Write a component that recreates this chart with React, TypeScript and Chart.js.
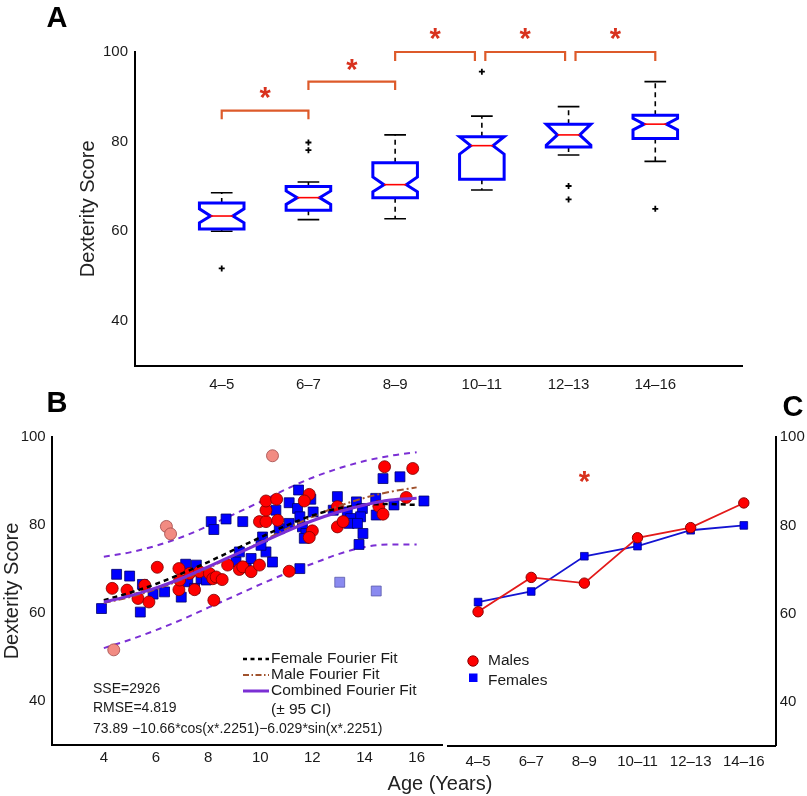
import React, { useEffect, useRef } from 'react';
import { Chart, registerables } from 'chart.js';

Chart.register(...registerables);

const FONT = '"Liberation Sans", Arial, Helvetica, sans-serif';
const W = 807;
const H = 796;

// ---------------- Panel A: notched box plots per age group
const ageGroups = ['4–5', '6–7', '8–9', '10–11', '12–13', '14–16'];
const boxWhiskerLow = [60.0, 62.6, 62.8, 69.2, 77.0, 75.6];
const boxQ1 = [60.5, 64.7, 67.5, 71.6, 78.8, 80.7];
const boxMedian = [63.4, 67.5, 70.4, 79.1, 81.5, 83.9];
const boxQ3 = [66.3, 70.0, 75.3, 81.1, 83.9, 85.9];
const boxWhiskerHigh = [68.6, 71.0, 81.5, 85.7, 87.8, 93.4];
const notchLow = [61.9, 66.0, 68.8, 77.2, 79.2, 82.6];
const notchHigh = [65.0, 69.0, 72.1, 81.1, 83.9, 85.2];
const outlierGroup = [1, 2, 2, 4, 5, 5, 6];
const outlierValue = [51.7, 79.8, 78.1, 95.6, 70.1, 67.1, 65.0];
const sigFrom = [1, 2, 3, 4.04, 5.08];
const sigTo = [2, 3, 3.92, 4.96, 6];
const sigTop = [86.9, 93.4, 100, 100, 100];
const sigLeg = [85.0, 91.5, 98.0, 98.0, 98.0];
const sigStar = [90.8, 97.1, 104.1, 104.1, 104.1];
const scoreTicks = [40, 60, 80, 100];

// ---------------- Panel B: scatter + Fourier fits
const ageTicks = [4, 6, 8, 10, 12, 14, 16];
const fitAge = [4, 5, 6, 7, 8, 9, 10, 11, 12, 13, 14, 15, 16];
const combinedFit = [62.5, 63.9, 65.7, 67.9, 70.5, 73.2, 75.9, 78.6, 81.0, 83.0, 84.6, 85.7, 86.1];
const femaleFit = [62.9, 64.6, 66.6, 69.0, 71.6, 74.4, 77.2, 79.9, 82.2, 83.8, 84.6, 84.8, 84.6];
const maleFit = [62.3, 63.6, 65.4, 67.6, 70.2, 73.1, 76.1, 79.1, 81.9, 84.3, 86.2, 87.6, 88.6];
const ciUpper = [72.8, 73.8, 75.3, 77.3, 79.8, 82.5, 85.3, 88.2, 90.8, 92.9, 94.6, 95.8, 96.6];
const ciLower = [52.0, 53.9, 56.1, 58.5, 61.2, 63.8, 66.5, 69.0, 71.2, 73.4, 75.0, 75.6, 75.6];

const malePoints: [number, number][] = [
  [4.32, 65.6], [4.89, 65.2], [5.31, 63.3], [5.73, 62.5], [5.57, 66.3], [6.05, 70.4],
  [6.88, 70.1], [6.88, 65.3], [7.48, 65.3], [6.91, 67.5], [7.29, 69.0], [7.67, 69.4],
  [8.05, 69.0], [8.18, 67.8], [8.31, 68.2], [8.54, 67.6], [8.22, 62.9], [8.75, 70.9],
  [9.2, 69.9], [9.33, 70.5], [9.65, 69.4], [9.97, 70.9], [9.97, 80.8], [10.22, 80.8],
  [10.22, 83.4], [10.22, 85.5], [10.67, 81.1], [10.63, 85.9], [11.11, 69.5], [11.88, 87.0],
  [11.69, 85.5], [12.0, 78.7], [11.88, 77.2], [12.96, 79.6], [13.18, 80.8], [12.96, 84.2],
  [14.55, 84.3], [14.71, 82.5], [14.77, 93.3], [15.6, 86.3], [15.85, 92.9],
];
const femalePoints: [number, number][] = [
  [3.91, 61.0], [4.49, 68.8], [4.99, 68.4], [5.48, 66.5], [5.40, 60.2], [5.89, 64.3],
  [6.33, 64.8], [6.97, 63.6], [7.14, 71.1], [7.55, 70.9], [7.22, 67.1], [7.48, 65.6],
  [7.73, 67.8], [7.93, 67.5], [8.12, 80.8], [8.22, 79.0], [8.69, 81.4], [9.33, 80.8],
  [9.20, 73.9], [9.07, 71.6], [9.46, 70.5], [9.65, 72.4], [10.09, 77.3], [10.22, 73.9],
  [10.47, 71.6], [10.60, 83.4], [10.03, 75.4], [11.47, 88.0], [11.11, 85.1], [11.43, 83.8],
  [11.94, 85.9], [12.03, 83.0], [11.52, 81.9], [10.73, 79.2], [11.11, 80.4], [11.62, 79.6],
  [11.75, 78.1], [11.69, 77.0], [12.96, 86.5], [12.80, 83.4], [13.34, 83.0], [13.69, 85.3],
  [13.92, 83.8], [13.85, 81.9], [13.47, 81.5], [13.41, 80.4], [13.73, 80.4], [13.94, 78.1],
  [13.79, 75.6], [14.43, 86.1], [14.45, 82.3], [14.71, 90.6], [15.36, 91.0], [15.13, 84.6],
  [16.28, 85.5], [11.52, 70.1],
];
const maleOutliers: [number, number][] = [[4.38, 51.6], [6.4, 79.7], [6.56, 78.0], [10.47, 95.8]];
const femaleOutliers: [number, number][] = [[13.05, 67.0], [14.45, 65.0]];
const fitStats = ['SSE=2926', 'RMSE=4.819', '73.89 −10.66*cos(x*.2251)−6.029*sin(x*.2251)'];

// ---------------- Panel C: group means by sex
const maleMeans = [60.4, 68.2, 66.9, 77.2, 79.5, 85.1];
const femaleMeans = [62.6, 65.0, 73.0, 75.3, 78.9, 80.0];
const starCGroup = 3;
const starCValue = 91.0;

const PURPLE = '#7b2fd4';
const BRACKET = '#dd5a2a';
const STAR = '#d8321e';
const tickFont = { family: FONT, size: 15 };

function drawStar(ctx: CanvasRenderingContext2D, x: number, y: number) {
  ctx.save();
  ctx.fillStyle = STAR;
  ctx.font = `bold 29px ${FONT}`;
  ctx.textAlign = 'center';
  ctx.textBaseline = 'alphabetic';
  const m = ctx.measureText('*');
  ctx.fillText('*', x, y + (m.actualBoundingBoxAscent - m.actualBoundingBoxDescent) / 2);
  ctx.restore();
}

function panelLetter(ctx: CanvasRenderingContext2D, t: string, x: number, y: number) {
  ctx.save();
  ctx.fillStyle = '#000';
  ctx.font = `bold 29px ${FONT}`;
  ctx.textAlign = 'center';
  ctx.textBaseline = 'middle';
  ctx.fillText(t, x, y);
  ctx.restore();
}

function yScale(position: string, padding: number, width: number, withTitle: boolean) {
  return {
    type: 'linear',
    position,
    min: 30,
    max: 100,
    afterBuildTicks: (s: any) => {
      s.ticks = scoreTicks.map((v) => ({ value: v }));
    },
    afterFit: (s: any) => {
      s.width = width;
    },
    grid: { display: false, drawTicks: false },
    border: { display: true, color: '#000', width: 2 },
    ticks: { font: tickFont, color: '#1a1a1a', padding },
    title: withTitle
      ? { display: true, text: 'Dexterity Score', font: { family: FONT, size: 20 }, color: '#222', padding: 0 }
      : { display: false },
  };
}

function xScale(min: number, max: number, ticks: number[], labels: (v: number) => string, padding: number, height: number) {
  return {
    type: 'linear',
    position: 'bottom',
    min,
    max,
    afterBuildTicks: (s: any) => {
      s.ticks = ticks.map((v) => ({ value: v }));
    },
    afterFit: (s: any) => {
      s.height = height;
    },
    grid: { display: false, drawTicks: false },
    border: { display: true, color: '#000', width: 2 },
    ticks: { font: tickFont, color: '#1a1a1a', padding, maxRotation: 0, callback: (v: any) => labels(Number(v)) },
  };
}

const panelAPlugin = {
  id: 'panelA',
  afterDatasetsDraw(chart: any) {
    const ctx: CanvasRenderingContext2D = chart.ctx;
    const xs = chart.scales.x;
    const ys = chart.scales.y;
    const px = (v: number) => xs.getPixelForValue(v);
    const py = (v: number) => ys.getPixelForValue(v);
    const unit = px(1) - px(0);
    const hw = unit * 0.257;
    const capHw = unit * 0.125;
    ctx.save();
    for (let i = 0; i < ageGroups.length; i++) {
      const cx = px(i + 1);
      // whiskers
      ctx.strokeStyle = '#000';
      ctx.lineWidth = 1.6;
      ctx.setLineDash([5, 4]);
      ctx.beginPath();
      ctx.moveTo(cx, py(boxQ3[i]));
      ctx.lineTo(cx, py(boxWhiskerHigh[i]));
      ctx.moveTo(cx, py(boxQ1[i]));
      ctx.lineTo(cx, py(boxWhiskerLow[i]));
      ctx.stroke();
      ctx.setLineDash([]);
      ctx.beginPath();
      ctx.moveTo(cx - capHw, py(boxWhiskerHigh[i]));
      ctx.lineTo(cx + capHw, py(boxWhiskerHigh[i]));
      ctx.moveTo(cx - capHw, py(boxWhiskerLow[i]));
      ctx.lineTo(cx + capHw, py(boxWhiskerLow[i]));
      ctx.stroke();
      // notched box
      ctx.fillStyle = '#fff';
      ctx.strokeStyle = '#0000ff';
      ctx.lineWidth = 3;
      ctx.lineJoin = 'miter';
      ctx.beginPath();
      ctx.moveTo(cx - hw, py(boxQ3[i]));
      ctx.lineTo(cx + hw, py(boxQ3[i]));
      ctx.lineTo(cx + hw, py(notchHigh[i]));
      ctx.lineTo(cx + hw / 2, py(boxMedian[i]));
      ctx.lineTo(cx + hw, py(notchLow[i]));
      ctx.lineTo(cx + hw, py(boxQ1[i]));
      ctx.lineTo(cx - hw, py(boxQ1[i]));
      ctx.lineTo(cx - hw, py(notchLow[i]));
      ctx.lineTo(cx - hw / 2, py(boxMedian[i]));
      ctx.lineTo(cx - hw, py(notchHigh[i]));
      ctx.closePath();
      ctx.fill();
      ctx.stroke();
      // median
      ctx.strokeStyle = '#ff0000';
      ctx.lineWidth = 1.6;
      ctx.beginPath();
      ctx.moveTo(cx - hw / 2, py(boxMedian[i]));
      ctx.lineTo(cx + hw / 2, py(boxMedian[i]));
      ctx.stroke();
    }
    // significance brackets
    ctx.strokeStyle = BRACKET;
    ctx.lineWidth = 2.2;
    for (let j = 0; j < sigFrom.length; j++) {
      const x1 = px(sigFrom[j]);
      const x2 = px(sigTo[j]);
      ctx.beginPath();
      ctx.moveTo(x1, py(sigLeg[j]));
      ctx.lineTo(x1, py(sigTop[j]));
      ctx.lineTo(x2, py(sigTop[j]));
      ctx.lineTo(x2, py(sigLeg[j]));
      ctx.stroke();
      drawStar(ctx, (x1 + x2) / 2, py(sigStar[j]));
    }
    ctx.restore();
    panelLetter(ctx, 'A', 57, 19);
  },
};

const legendRowsB = [
  { text: 'Female Fourier Fit', color: '#000', width: 2.5, dash: [4, 3.5], y: 659 },
  { text: 'Male Fourier Fit', color: '#a0522d', width: 2, dash: [6, 2.5, 1.5, 2.5], y: 675 },
  { text: 'Combined Fourier Fit', color: PURPLE, width: 3, dash: [] as number[], y: 691 },
];

const panelBPlugin = {
  id: 'panelB',
  afterDraw(chart: any) {
    const ctx: CanvasRenderingContext2D = chart.ctx;
    ctx.save();
    ctx.textBaseline = 'middle';
    ctx.textAlign = 'left';
    for (const r of legendRowsB) {
      ctx.strokeStyle = r.color;
      ctx.lineWidth = r.width;
      ctx.setLineDash(r.dash);
      ctx.beginPath();
      ctx.moveTo(243, r.y);
      ctx.lineTo(269, r.y);
      ctx.stroke();
      ctx.setLineDash([]);
      ctx.fillStyle = '#1a1a1a';
      ctx.font = `15.5px ${FONT}`;
      ctx.fillText(r.text, 271, r.y);
    }
    ctx.fillText('(± 95 CI)', 271, 710);
    ctx.font = `14px ${FONT}`;
    ctx.fillText(fitStats[0], 93, 689);
    ctx.fillText(fitStats[1], 93, 708);
    ctx.fillText(fitStats[2], 93, 729);
    ctx.font = `20px ${FONT}`;
    ctx.textAlign = 'center';
    ctx.fillStyle = '#222';
    ctx.fillText('Age (Years)', 440, 784);
    ctx.restore();
    panelLetter(ctx, 'B', 57, 404);
  },
};

const panelCPlugin = {
  id: 'panelC',
  afterDraw(chart: any) {
    const ctx: CanvasRenderingContext2D = chart.ctx;
    const xs = chart.scales.x;
    const ys = chart.scales.y;
    drawStar(ctx, xs.getPixelForValue(starCGroup), ys.getPixelForValue(starCValue));
    ctx.save();
    ctx.fillStyle = '#ff0000';
    ctx.strokeStyle = '#8b0000';
    ctx.lineWidth = 1;
    ctx.beginPath();
    ctx.arc(473, 661, 5.2, 0, Math.PI * 2);
    ctx.fill();
    ctx.stroke();
    ctx.fillStyle = '#0000ff';
    ctx.fillRect(469, 673.5, 8.5, 8.5);
    ctx.fillStyle = '#1a1a1a';
    ctx.font = `15.5px ${FONT}`;
    ctx.textBaseline = 'middle';
    ctx.textAlign = 'left';
    ctx.fillText('Males', 488, 661);
    ctx.fillText('Females', 488, 681);
    ctx.restore();
    panelLetter(ctx, 'C', 793, 408);
  },
};

const toXY = (xs: number[], ys: number[]) => xs.map((x, i) => ({ x, y: ys[i] }));
const pairs = (p: [number, number][]) => p.map(([x, y]) => ({ x, y }));

function lineDs(data: any[], color: string, width: number, dash: number[]) {
  return {
    data,
    showLine: true,
    borderColor: color,
    borderWidth: width,
    borderDash: dash,
    pointRadius: 0,
    cubicInterpolationMode: 'monotone',
    fill: false,
  };
}

function pointDs(data: any[], style: string, radius: number, fill: string, edge: string) {
  return {
    data,
    showLine: false,
    pointStyle: style,
    pointRadius: radius,
    backgroundColor: fill,
    borderColor: edge,
    pointBorderWidth: 0.8,
  };
}

const common = {
  responsive: false,
  animation: false,
  devicePixelRatio: 1,
  events: [] as string[],
  plugins: { legend: { display: false }, tooltip: { enabled: false } },
};

export default function App() {
  const aRef = useRef<HTMLCanvasElement>(null);
  const bRef = useRef<HTMLCanvasElement>(null);
  const cRef = useRef<HTMLCanvasElement>(null);

  useEffect(() => {
    const charts: Chart[] = [];
    charts.push(
      new Chart(aRef.current!, {
        type: 'scatter',
        data: {
          datasets: [
            {
              data: outlierGroup.map((g, i) => ({ x: g, y: outlierValue[i] })),
              pointStyle: 'cross',
              pointRadius: 3,
              borderColor: '#000',
              pointBorderWidth: 1.8,
            } as any,
          ],
        },
        options: {
          ...common,
          layout: { padding: { left: 76.5, top: 52, right: 65, bottom: 796 - 365.7 - 40 } },
          scales: {
            x: xScale(0, 7, [1, 2, 3, 4, 5, 6], (v) => ageGroups[v - 1] ?? '', 10, 40),
            y: yScale('left', 7, 58.5, true),
          },
        } as any,
        plugins: [panelAPlugin],
      })
    );

    charts.push(
      new Chart(bRef.current!, {
        type: 'scatter',
        data: {
          datasets: [
            lineDs(toXY(fitAge, combinedFit), PURPLE, 3, []),
            lineDs(toXY(fitAge, femaleFit), '#000', 2.5, [5, 4]),
            lineDs(toXY(fitAge, maleFit), '#a0522d', 2, [7, 3, 2, 3]),
            pointDs(pairs(malePoints), 'circle', 6, '#ff0000', '#7a0000'),
            pointDs(pairs(femalePoints), 'rect', 7, '#0000ff', '#00006a'),
            pointDs(pairs(maleOutliers), 'circle', 6, '#f28b82', '#a04848'),
            pointDs(pairs(femaleOutliers), 'rect', 7, '#8a8af0', '#5a5aaa'),
            lineDs(toXY(fitAge, ciUpper), PURPLE, 2, [6, 5]),
            lineDs(toXY(fitAge, ciLower), PURPLE, 2, [6, 5]),
          ] as any,
        },
        options: {
          ...common,
          layout: { padding: { left: 0, top: 437.3, right: 807 - 442.7, bottom: 796 - 744.7 - 30 } },
          scales: {
            x: xScale(2, 17, ageTicks, (v) => String(v), 4, 30),
            y: yScale('left', 6, 51.7, true),
          },
        } as any,
        plugins: [panelBPlugin],
      })
    );

    charts.push(
      new Chart(cRef.current!, {
        type: 'scatter',
        data: {
          datasets: [
            {
              data: toXY([1, 2, 3, 4, 5, 6], maleMeans),
              showLine: true,
              borderColor: '#e31a1a',
              borderWidth: 1.8,
              pointStyle: 'circle',
              pointRadius: 5.2,
              pointBackgroundColor: '#ff0000',
              pointBorderColor: '#8b0000',
              pointBorderWidth: 1,
            },
            {
              data: toXY([1, 2, 3, 4, 5, 6], femaleMeans),
              showLine: true,
              borderColor: '#1414d2',
              borderWidth: 1.8,
              pointStyle: 'rect',
              pointRadius: 5.4,
              pointBackgroundColor: '#0000ff',
              pointBorderColor: '#00008b',
              pointBorderWidth: 0.8,
            },
          ] as any,
        },
        options: {
          ...common,
          layout: { padding: { left: 448.3, top: 437.3, right: 0, bottom: 796 - 745.7 - 30 } },
          scales: {
            x: xScale(0.44, 6.6, [1, 2, 3, 4, 5, 6], (v) => ageGroups[v - 1] ?? '', 7, 30),
            y: yScale('right', 4, 807 - 775.7, false),
          },
        } as any,
        plugins: [panelCPlugin],
      })
    );

    return () => charts.forEach((c) => c.destroy());
  }, []);

  const cs: React.CSSProperties = { position: 'absolute', left: 0, top: 0, width: W, height: H };
  return (
    <div style={{ position: 'absolute', left: 0, top: 0, width: W, height: H, background: '#fff', overflow: 'hidden' }}>
      <canvas ref={aRef} width={W} height={H} style={cs} />
      <canvas ref={bRef} width={W} height={H} style={cs} />
      <canvas ref={cRef} width={W} height={H} style={cs} />
    </div>
  );
}
